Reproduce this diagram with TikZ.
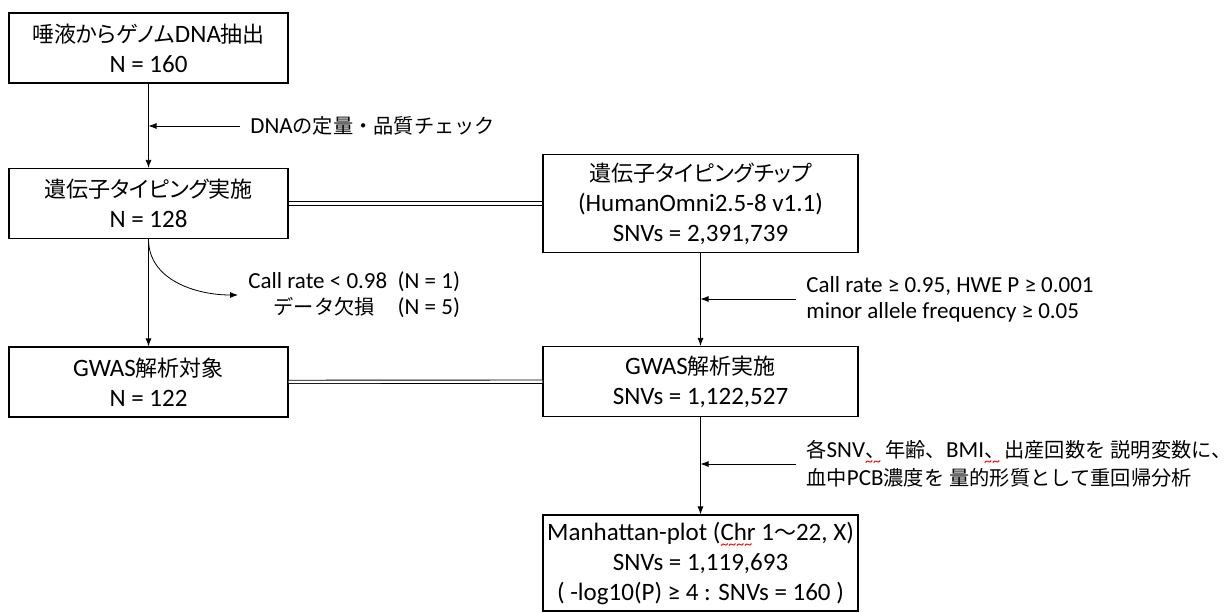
\documentclass[tikz,border=0pt]{standalone}
\usepackage{fontspec}
\setmainfont{Carlito}
\newfontfamily\jp{Noto Sans CJK JP}[Scale=0.88,RawFeature=+palt]
\newfontfamily\jq{Noto Sans CJK JP}[Scale=0.88]
\usetikzlibrary{arrows.meta,positioning}
\newcommand{\ja}[1]{{\jp #1}}
\newcommand{\jb}[1]{{\jq #1}}
\newcommand{\sq}[1]{\setbox0\hbox{#1}\rlap{\raisebox{-4.5pt}{\color{red}\fontsize{8}{8}\selectfont
  \leaders\hbox{\char"7E}\hskip\wd0}}\box0\relax}

\begin{document}
\begin{tikzpicture}[>={Latex[length=4pt,width=3pt]},x=0.5pt,y=-0.5pt,node distance=77.75pt,
    box/.style={draw,line width=0.6pt,minimum width=139.5pt,minimum height=35pt,
      align=center,inner sep=0pt,font=\fontsize{12.5}{15}\selectfont},
    wide/.style={box,minimum width=157.5pt},
    note/.style={anchor=west,align=left,inner xsep=5pt,inner ysep=0pt,
      font=\fontsize{11.5}{13}\selectfont},
    link/.style={double,double distance=1.2pt,line width=0.45pt}]
  \useasboundingbox (0,0) rectangle (1232,612);
  % left column: samples
  \node[box] (ext) at (148.5,48) {\ja{唾液からゲノム}DNA\ja{抽出}\\N = 160};
  \node[box] (typ) [below of=ext] {\ja{遺伝子タイピング実施}\\N = 128};
  \node[box] (tgt) [below of=typ,node distance=89.25pt] {GWAS\ja{解析対象}\\N = 122};
  % right column: SNVs
  \node[wide,minimum height=49pt] (chip) [right of=typ,node distance=276pt]
     {\ja{遺伝子タイピングチップ}\\(HumanOmni2.5-8 v1.1)\\SNVs = 2,391,739};
  \node[wide] (run) [below of=chip,node distance=89pt] {GWAS\ja{解析実施}\\SNVs = 1,122,527};
  \node[wide,minimum height=48pt] (man) [below of=run,node distance=90.75pt]
     {Manhattan-plot (\sq{Chr} 1\ja{～}22, X)\\SNVs = 1,119,693\\( -log10(P) ≥ 4 : SNVs = 160 )};
  \draw[->] (ext) -- (typ);
  \draw[->] (typ) -- (tgt);
  \draw[->] (chip) -- (run);
  \draw[->] (run) -- (man);
  \draw[link] (typ) -- (chip);
  \draw[link] (tgt) -- (run);
  % side notes
  \node[note] (qc) at (240,126) {DNA\jb{の定量・品質チェック}};
  \draw[->] (qc.west) -- (qc.west -| ext.south);
  \node[note,align=right] (drop) at (238,295)
     {Call rate < 0.98\ \ (N = 1)\\\jb{データ欠損}\quad(N = 5)};
  \draw[->] (typ.south) to[out=-90,in=180] (drop.west);
  \node[note] (snvqc) at (796,299)
     {Call rate ≥ 0.95, HWE P ≥ 0.001\\minor allele frequency ≥ 0.05};
  \draw[->] (snvqc.west) -- (snvqc.west -| chip.south);
  \node[note] (model) at (796,464)
     {\jb{各}SNV\sq{\jb{、}}\jb{年齢、}BMI\sq{\jb{、}}\jb{出産回数を} \jb{説明変数に、}\\\jb{血中}PCB\jb{濃度を} \jb{量的形質として重回帰分析}};
  \draw[->] (model.west) -- (model.west -| run.south);
\end{tikzpicture}
\end{document}
